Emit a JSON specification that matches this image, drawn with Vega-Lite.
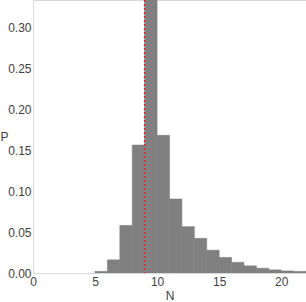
{
  "$schema": "https://vega.github.io/schema/vega-lite/v6.json",
  "width": 273,
  "height": 273,
  "autosize": {"type": "none"},
  "padding": {"left": 33, "top": 0, "right": 0, "bottom": 29},
  "config": {
    "view": {"stroke": "#d9d9d9", "strokeWidth": 1},
    "font": "Liberation Sans",
    "axis": {
      "labelFont": "Liberation Sans",
      "titleFont": "Liberation Sans",
      "labelFontSize": 12,
      "titleFontSize": 12,
      "titleFontWeight": "normal",
      "labelColor": "#404040",
      "titleColor": "#404040",
      "domainColor": "#d9d9d9",
      "ticks": false,
      "grid": false
    }
  },
  "layer": [
    {
      "data": {
        "values": [
          {"lo": 5, "hi": 6, "p": 0.002},
          {"lo": 6, "hi": 7, "p": 0.016},
          {"lo": 7, "hi": 8, "p": 0.058},
          {"lo": 8, "hi": 9, "p": 0.156},
          {"lo": 9, "hi": 10, "p": 0.34},
          {"lo": 10, "hi": 11, "p": 0.168},
          {"lo": 11, "hi": 12, "p": 0.0903},
          {"lo": 12, "hi": 13, "p": 0.0565},
          {"lo": 13, "hi": 14, "p": 0.0423},
          {"lo": 14, "hi": 15, "p": 0.0278},
          {"lo": 15, "hi": 16, "p": 0.019},
          {"lo": 16, "hi": 17, "p": 0.013},
          {"lo": 17, "hi": 18, "p": 0.0087},
          {"lo": 18, "hi": 19, "p": 0.0058},
          {"lo": 19, "hi": 20, "p": 0.0038},
          {"lo": 20, "hi": 21, "p": 0.0025},
          {"lo": 21, "hi": 22, "p": 0.002}
        ]
      },
      "mark": {"type": "rect", "color": "#808080", "stroke": "#808080", "strokeWidth": 0.6, "clip": true},
      "encoding": {
        "x": {
          "field": "lo",
          "type": "quantitative",
          "scale": {"domain": [0, 22], "nice": false, "zero": false},
          "axis": {"title": "N", "values": [0, 5, 10, 15, 20], "labelPadding": 3, "titlePadding": 3, "labelFlush": false}
        },
        "x2": {"field": "hi"},
        "y": {
          "field": "p",
          "type": "quantitative",
          "scale": {"domain": [0, 0.333], "nice": false},
          "axis": {
            "title": "P",
            "values": [0, 0.05, 0.1, 0.15, 0.2, 0.25, 0.3],
            "format": ".2f",
            "labelPadding": 2,
            "titleAngle": 0,
            "titleAlign": "left",
            "titleBaseline": "middle",
            "titleX": -33,
            "titleY": 136,
            "labelFlush": false
          }
        },
        "y2": {"datum": 0}
      }
    },
    {
      "data": {"values": [{"n": 9}]},
      "mark": {"type": "rule", "color": "#e0202a", "strokeDash": [2, 2], "strokeWidth": 1.5},
      "encoding": {
        "x": {"field": "n", "type": "quantitative"}
      }
    }
  ]
}
